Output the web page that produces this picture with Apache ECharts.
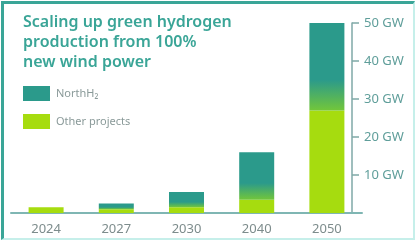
<!DOCTYPE html>
<html>
<head>
<meta charset="utf-8">
<script src="https://cdn.jsdelivr.net/npm/echarts@6/dist/echarts.min.js"></script>
<style>
  html, body { margin: 0; padding: 0; background: #fff; }
  #wrap { position: relative; width: 418px; height: 243px; overflow: hidden; }
  #chart { position: absolute; left: 0; top: 0; width: 418px; height: 243px; }
  #frame {
    position: absolute; left: 1px; top: 1px; width: 414px; height: 239px;
    border-top: 3px solid #3aa597; border-left: 3px solid #3aa597;
    border-right: 2px solid #c6efea; border-bottom: 2px solid #c6efea;
    box-sizing: border-box; pointer-events: none;
  }
</style>
</head>
<body>
<div id="wrap">
  <div id="chart"></div>
  <div id="frame"></div>
</div>
<script>
var years = ['2024', '2027', '2030', '2040', '2050'];
var northH2 = [0, 1.5, 4, 12.5, 23];
var otherProjects = [1.5, 1, 1.5, 3.5, 27];
var yTicks = [0, 10, 20, 30, 40, 50];

var teal = '#2b9a8b';
var lime = '#a6dc0f';

var chart = echarts.init(document.getElementById('chart'));

var option = {
    animation: false,
    title: {
        text: 'Scaling up green hydrogen\nproduction from 100%\nnew wind power',
        left: 23,
        top: 12,
        padding: 0,
        textStyle: {
            fontFamily: 'Noto Sans',
            fontSize: 16,
            fontWeight: 600,
            lineHeight: 20,
            color: '#3aa597'
        }
    },
    legend: {
        orient: 'vertical',
        left: 23,
        top: 86,
        padding: 0,
        itemWidth: 27,
        itemHeight: 15,
        itemGap: 13,
        icon: 'rect',
        data: [
            { name: 'NorthH₂', itemStyle: { color: teal } },
            { name: 'Other projects', itemStyle: { color: lime } }
        ],
        textStyle: {
            fontFamily: 'Noto Sans',
            fontSize: 11,
            color: '#8a9a99',
            padding: [0, 0, 0, 1]
        }
    },
    grid: {
        left: 11,
        right: 56,
        top: 23,
        bottom: 30,
        containLabel: false
    },
    xAxis: {
        type: 'category',
        data: years,
        axisTick: { show: false },
        axisLine: { lineStyle: { color: '#7fb6b3', width: 2 } },
        axisLabel: {
            margin: 10,
            fontFamily: 'Noto Sans',
            fontSize: 13,
            color: '#7d8c8c'
        }
    },
    yAxis: {
        type: 'value',
        position: 'right',
        offset: -10,
        min: yTicks[0],
        max: yTicks[yTicks.length - 1],
        interval: 10,
        splitLine: { show: false },
        axisLine: { show: true, lineStyle: { color: '#7fa9a7', width: 1.5 } },
        axisTick: { show: true, length: 7, lineStyle: { color: '#7fa9a7', width: 1.5 } },
        axisLabel: {
            margin: 12,
            showMinLabel: false,
            fontFamily: 'Noto Sans',
            fontSize: 13,
            color: '#5f9e9a',
            formatter: function (v) { return v + ' GW'; }
        }
    },
    series: [{
        name: 'Other projects',
        type: 'bar',
        stack: 'total',
        barWidth: 35,
        itemStyle: { color: lime },
        data: otherProjects
    }, {
        name: 'NorthH₂',
        type: 'bar',
        stack: 'total',
        barWidth: 35,
        itemStyle: {
            color: new echarts.graphic.LinearGradient(0, 0, 0, 1, [
                { offset: 0, color: teal },
                { offset: 0.65, color: teal },
                { offset: 1, color: '#72c63a' }
            ])
        },
        data: northH2
    }]
};

chart.setOption(option);
</script>
</body>
</html>
